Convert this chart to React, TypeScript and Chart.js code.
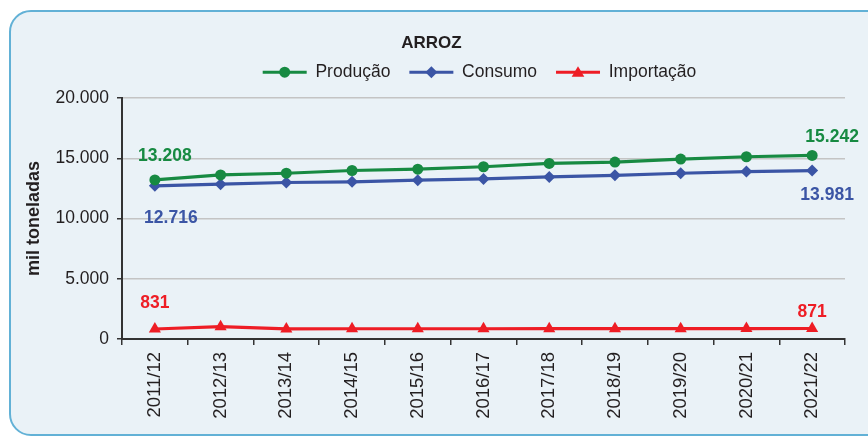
import React, { useEffect, useRef } from 'react';
import { Chart, registerables } from 'chart.js';

Chart.register(...registerables);

const categories = ['2011/12', '2012/13', '2013/14', '2014/15', '2015/16', '2016/17', '2017/18', '2018/19', '2019/20', '2020/21', '2021/22'];
const producao = [13208, 13625, 13763, 13990, 14100, 14300, 14575, 14690, 14937, 15131, 15242];
const consumo = [12716, 12855, 12994, 13049, 13188, 13290, 13453, 13592, 13759, 13898, 13981];
const importacao = [831, 1020, 840, 850, 850, 850, 860, 860, 860, 865, 871];
const seriesNames = ['Produção', 'Consumo', 'Importação'];
const yMin = 0;
const yMax = 20000;
const yStep = 5000;

const GREEN = '#178a42';
const BLUE = '#3b55a5';
const RED = '#ee1d25';
const TEXT = '#231f20';
const FONT = '"Liberation Sans", Arial, Helvetica, sans-serif';

const fmt = (v: number) => String(Math.round(v)).replace(/\B(?=(\d{3})+(?!\d))/g, '.');

function drawMarker(ctx: CanvasRenderingContext2D, style: string, x: number, y: number, r: number, color: string) {
  ctx.save();
  ctx.fillStyle = color;
  ctx.beginPath();
  if (style === 'circle') {
    ctx.arc(x, y, r, 0, Math.PI * 2);
  } else if (style === 'rectRot') {
    ctx.moveTo(x, y - r);
    ctx.lineTo(x + r, y);
    ctx.lineTo(x, y + r);
    ctx.lineTo(x - r, y);
    ctx.closePath();
  } else {
    const w = r * 0.9;
    ctx.moveTo(x, y - r * 0.85);
    ctx.lineTo(x + w, y + r * 0.65);
    ctx.lineTo(x - w, y + r * 0.65);
    ctx.closePath();
  }
  ctx.fill();
  ctx.restore();
}

const customPlugin = {
  id: 'customPlugin',
  beforeInit(chart: any) {
    const legend = chart.legend;
    if (legend && !legend._patched) {
      const origFit = legend.fit;
      legend.fit = function () {
        origFit.call(this);
        this.height += 7.2;
      };
      legend._patched = true;
    }
  },
  afterLayout(chart: any) {
    const legend = chart.legend;
    if (legend) {
      legend.left += 48;
      legend.right += 48;
    }
  },
  afterDatasetsDraw(chart: any) {
    const ctx = chart.ctx;
    const offsets = [
      { first: [10, -24], last: [20, -18] },
      { first: [16, 32], last: [15, 25] },
      { first: [0, -26], last: [0, -16] },
    ];
    chart.data.datasets.forEach((ds: any, i: number) => {
      const meta = chart.getDatasetMeta(i);
      const pts = meta.data;
      const n = pts.length;
      const items = [
        { p: pts[0], v: ds.data[0], o: offsets[i].first },
        { p: pts[n - 1], v: ds.data[n - 1], o: offsets[i].last },
      ];
      ctx.save();
      ctx.font = `bold 17.5px ${FONT}`;
      ctx.fillStyle = ds.borderColor;
      ctx.textAlign = 'center';
      ctx.textBaseline = 'middle';
      items.forEach((it) => {
        ctx.fillText(fmt(it.v), it.p.x + it.o[0], it.p.y + it.o[1]);
      });
      ctx.restore();
    });
  },
  afterDraw(chart: any) {
    const legend = chart.legend;
    if (!legend || !legend.legendHitBoxes) return;
    const ctx = chart.ctx;
    const bw = legend.options.labels.boxWidth;
    legend.legendHitBoxes.forEach((hb: any, i: number) => {
      const ds = chart.data.datasets[i];
      const cx = hb.left + bw / 2;
      const cy = hb.top + hb.height / 2;
      drawMarker(ctx, ds.pointStyle, cx, cy, ds.pointRadius, ds.borderColor);
    });
  },
};

export default function App() {
  const canvasRef = useRef<HTMLCanvasElement | null>(null);

  useEffect(() => {
    if (!canvasRef.current) return;
    Chart.defaults.font.family = FONT;
    const chart = new Chart(canvasRef.current, {
      type: 'line',
      data: {
        labels: categories,
        datasets: [
          {
            label: seriesNames[0],
            data: producao,
            borderColor: GREEN,
            backgroundColor: GREEN,
            borderWidth: 3.2,
            pointStyle: 'circle',
            pointRadius: 5.5,
            pointBackgroundColor: GREEN,
            pointBorderWidth: 0,
            tension: 0,
          },
          {
            label: seriesNames[1],
            data: consumo,
            borderColor: BLUE,
            backgroundColor: BLUE,
            borderWidth: 3.2,
            pointStyle: 'rectRot',
            pointRadius: 6,
            pointBackgroundColor: BLUE,
            pointBorderWidth: 0,
            tension: 0,
          },
          {
            label: seriesNames[2],
            data: importacao,
            borderColor: RED,
            backgroundColor: RED,
            borderWidth: 3.2,
            pointStyle: 'triangle',
            pointRadius: 7,
            pointBackgroundColor: RED,
            pointBorderWidth: 0,
            tension: 0,
          },
        ],
      },
      options: {
        animation: false,
        responsive: false,
        devicePixelRatio: 1,
        layout: { padding: { left: 18, right: 23, top: 0, bottom: 0 } },
        plugins: {
          title: {
            display: true,
            text: 'ARROZ',
            color: TEXT,
            font: { size: 17, weight: 'bold' },
            padding: { top: 33, bottom: -9 },
          },
          legend: {
            display: true,
            labels: {
              boxWidth: 44,
              boxHeight: 3,
              padding: 19,
              color: TEXT,
              font: { size: 17.5 },
              generateLabels: (c: any) =>
                Chart.defaults.plugins.legend.labels.generateLabels(c).map((it: any) => ({ ...it, lineWidth: 0 })),
            },
          },
          tooltip: { enabled: false },
        },
        scales: {
          x: {
            type: 'category',
            offset: true,
            grid: {
              offset: true,
              drawOnChartArea: false,
              drawTicks: true,
              tickLength: 6,
              color: '#333333',
              lineWidth: 1.5,
            },
            border: { display: true, color: '#333333', width: 2 },
            ticks: {
              minRotation: 90,
              maxRotation: 90,
              autoSkip: false,
              padding: 7,
              color: TEXT,
              font: { size: 18.5 },
            },
            afterFit: (s: any) => {
              s.height = 98;
            },
          },
          y: {
            min: yMin,
            max: yMax,
            ticks: {
              stepSize: yStep,
              padding: 8,
              color: TEXT,
              font: { size: 17.5 },
              callback: (v: any) => fmt(Number(v)),
            },
            grid: {
              color: '#c4c4c4',
              lineWidth: 1.5,
              tickColor: '#333333',
              tickLength: 5,
            },
            border: { display: true, color: '#333333', width: 2 },
            title: {
              display: true,
              text: 'mil toneladas',
              color: TEXT,
              font: { size: 18, weight: 'bold' },
              padding: { top: 5.5, bottom: 0 },
            },
            afterFit: (s: any) => {
              s.width = 104;
            },
          },
        },
      } as any,
      plugins: [customPlugin],
    });
    return () => chart.destroy();
  }, []);

  return (
    <div style={{ position: 'absolute', left: 0, top: 0, width: 868, height: 437, overflow: 'hidden', background: '#ffffff' }}>
      <div
        style={{
          position: 'absolute',
          left: 9,
          top: 10,
          width: 900,
          height: 422,
          border: '2px solid #62b1d6',
          borderRadius: 22,
          background: '#eaf2f7',
        }}
      />
      <canvas ref={canvasRef} width={868} height={437} style={{ position: 'absolute', left: 0, top: 0, width: 868, height: 437 }} />
    </div>
  );
}
